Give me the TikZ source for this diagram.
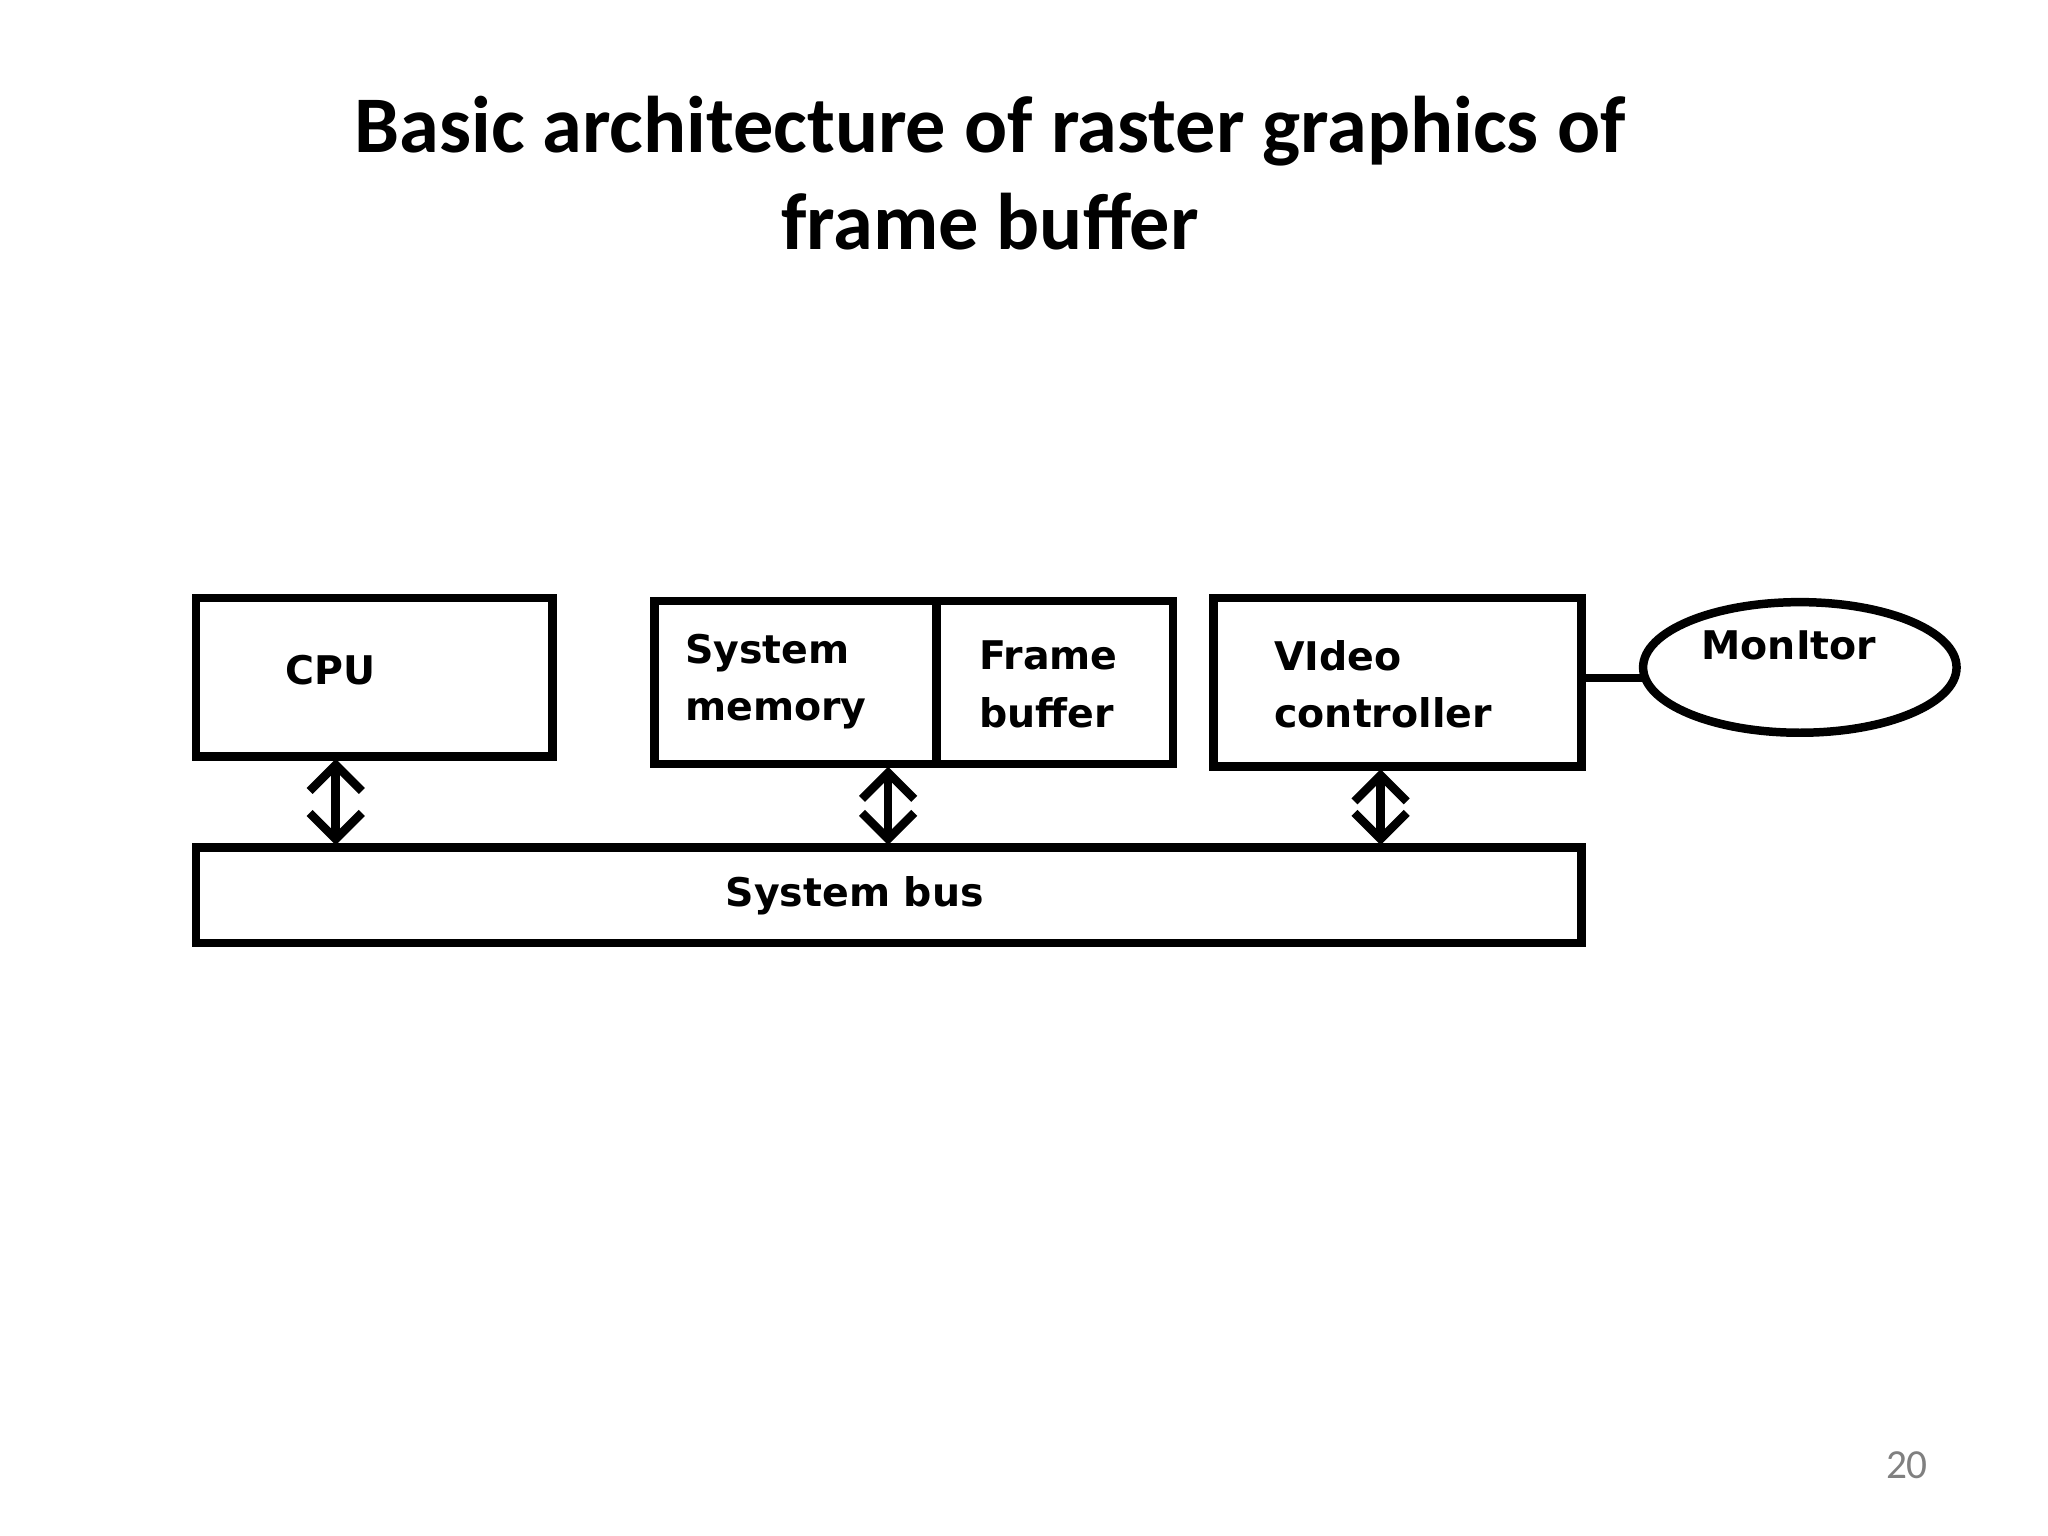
\documentclass[tikz,border=0pt]{standalone}
\usepackage{fontspec}
\setmainfont{Carlito}
\newfontfamily\lbl{DejaVu Sans}
\usetikzlibrary{arrows.meta}
\begin{document}
\begin{tikzpicture}[x=0.1mm,y=-0.1mm,
  box/.style={draw,line width=0.65mm,inner sep=0},
  lab/.style={font=\lbl\bfseries\fontsize{8.6}{12.5}\selectfont,align=left,anchor=west,inner sep=0},
  arr/.style={line width=0.65mm,{Straight Barb[length=2mm,width=4mm]}-{Straight Barb[length=2mm,width=4mm]}}]
\useasboundingbox (0,0) rectangle (1568,1176);
\node[font=\bfseries\fontsize{17.5}{21}\selectfont] (t1) at (758,100) {Basic architecture of raster graphics of};
\node[font=\bfseries\fontsize{17.5}{21}\selectfont] (t2) at (758,170) {frame buffer};
\draw[box] (150,458) rectangle (423,579);
\node[lab] (cput) at (218,513) {CPU};
\draw[box] (501,460) rectangle (717,585);
\draw[box] (717,460) rectangle (898,585);
\node[lab] (sm) at (524,522) {System\\memory};
\node[lab] (fb) at (749,524) {Frame\\buffer};
\draw[box] (929,458) rectangle (1211,587);
\node[lab] (vc) at (975,524) {VIdeo\\controller};
\draw[line width=0.65mm] (1378,511) ellipse (120 and 50);
\node[lab] (mon) at (1302,494) {MonItor};
\draw[line width=0.65mm] (1211,519) -- (1258,519);
\draw[box] (150,649) rectangle (1211,722);
\node[lab] (bus) at (555,686) {System bus};
\coordinate (a1) at (257,581); \coordinate (b1) at (257,647);
\coordinate (a2) at (680,587); \coordinate (b2) at (680,647);
\coordinate (a3) at (1057,589); \coordinate (b3) at (1057,647);
\draw[arr] (a1) -- (b1);
\draw[arr] (a2) -- (b2);
\draw[arr] (a3) -- (b3);
\node[text=gray,font=\fontsize{9}{11}\selectfont] (pg) at (1460,1122) {20};
\end{tikzpicture}
\end{document}
